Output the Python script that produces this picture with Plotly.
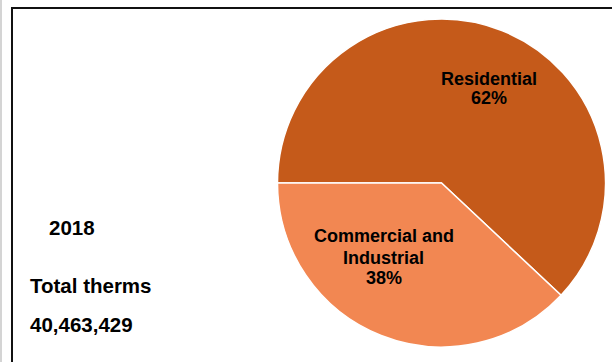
import plotly.graph_objects as go

# Natural gas use by sector, 2018
sectors = ["Residential", "Commercial and<br>Industrial"]
shares = [62, 38]
colors = ["#C55A1A", "#F28752"]
year = "2018"
total_label = "Total therms"
total_therms = 40463429

W, H = 612, 362

def px(x):
    return x / W

def py(y):
    return 1 - y / H

# Pie placement: centre and radius in pixels
cx, cy, r = 441.5, 183, 164

fig = go.Figure(
    go.Pie(
        labels=sectors,
        values=shares,
        marker=dict(colors=colors, line=dict(color="white", width=1.5)),
        sort=False,
        direction="clockwise",
        rotation=270,
        textinfo="none",
        hoverinfo="skip",
        showlegend=False,
        domain=dict(x=[px(cx - r), px(cx + r)], y=[py(cy + r), py(cy - r)]),
    )
)

label_font = dict(family="Liberation Sans, Arial, sans-serif", size=18, color="black")
side_font = dict(family="Liberation Sans, Arial, sans-serif", size=20.5, color="black")

annotations = []

# Slice labels: name lines followed by the percentage
slice_label_pos = [(489, [79, 98.5]), (383.5, [235.5, 257.5, 278.3])]
for (lx, ys), name, share in zip(slice_label_pos, sectors, shares):
    lines = name.split("<br>") + [f"{share}%"]
    for line, ly in zip(lines, ys):
        annotations.append(dict(
            x=px(lx), y=py(ly), xref="paper", yref="paper",
            text=f"<b>{line}</b>", showarrow=False,
            xanchor="center", yanchor="middle", font=label_font,
        ))

# Side text block
annotations.append(dict(x=px(47), y=py(228), xref="paper", yref="paper",
                        text=f"<b>{year}</b>", showarrow=False,
                        xanchor="left", yanchor="middle", font=side_font))
annotations.append(dict(x=px(27.5), y=py(285), xref="paper", yref="paper",
                        text=f"<b>{total_label}</b>", showarrow=False,
                        xanchor="left", yanchor="middle", font=side_font))
annotations.append(dict(x=px(27.5), y=py(324), xref="paper", yref="paper",
                        text=f"<b>{total_therms:,}</b>", showarrow=False,
                        xanchor="left", yanchor="middle", font=side_font))

# Chart frame (left and top edges visible) plus faint outer edge
shapes = [
    dict(type="rect", xref="paper", yref="paper",
         x0=px(12), x1=1.05, y0=-0.05, y1=py(8),
         line=dict(color="#111111", width=2), fillcolor="rgba(0,0,0,0)", layer="above"),
    dict(type="line", xref="paper", yref="paper",
         x0=px(1), x1=px(1), y0=0, y1=1,
         line=dict(color="#D4D4D4", width=2)),
]

fig.update_layout(
    width=W, height=H,
    margin=dict(l=0, r=0, t=0, b=0),
    paper_bgcolor="white", plot_bgcolor="white",
    annotations=annotations,
    shapes=shapes,
)

fig.write_html("out.html")
